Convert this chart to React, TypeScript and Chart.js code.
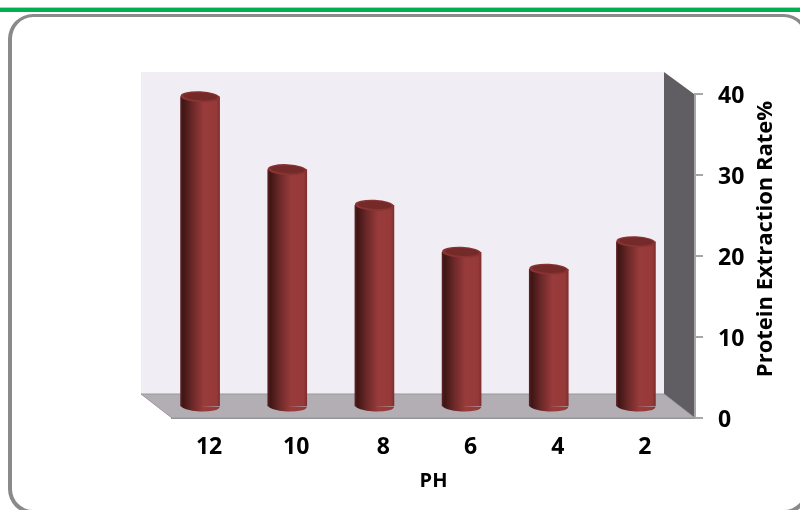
import React, { useEffect, useRef } from "react";
import { Chart, registerables } from "chart.js";

Chart.register(...registerables);

const phLevels = ["12", "10", "8", "6", "4", "2"];
const extractionRates = [38.3, 29.3, 24.9, 19.1, 17, 20.4];
const rateTicks = [0, 10, 20, 30, 40];
const xTitle = "PH";
const yTitle = "Protein Extraction Rate%";

const FONT = "'Open Sans', 'Noto Sans', sans-serif";
// Depth of the pseudo-3D box, and how far the cylinders sit into it.
const DEPTH_X = 31;
const DEPTH_Y = 24;
const BAR_SHIFT_X = -15.5;
const BAR_SHIFT_Y = -11;
const CAP_RY = 5.5;
const CAP_TILT = 0.045;

function barGradient(ctx: CanvasRenderingContext2D, cx: number, w: number) {
  const g = ctx.createLinearGradient(cx - w / 2, 0, cx + w / 2, 0);
  g.addColorStop(0, "#5a2020");
  g.addColorStop(0.06, "#3f1515");
  g.addColorStop(0.3, "#6b2828");
  g.addColorStop(0.6, "#9a3b3b");
  g.addColorStop(0.92, "#963939");
  g.addColorStop(1, "#7f2e2e");
  return g;
}

const boxPlugin = {
  id: "box3d",
  beforeDatasetsDraw(chart: any) {
    const { ctx, chartArea: a } = chart;
    const backL = a.left - DEPTH_X;
    const backR = a.right - DEPTH_X;
    const backT = a.top - DEPTH_Y + 2;
    const backB = a.bottom - DEPTH_Y;
    ctx.save();
    ctx.fillStyle = "#f0eef4";
    ctx.fillRect(backL, backT, backR - backL, backB - backT);
    // Side wall
    ctx.fillStyle = "#605e63";
    ctx.beginPath();
    ctx.moveTo(backR, backT);
    ctx.lineTo(a.right - 1, a.top);
    ctx.lineTo(a.right - 1, a.bottom);
    ctx.lineTo(backR, backB);
    ctx.closePath();
    ctx.fill();
    // Floor
    ctx.fillStyle = "#b2aeb3";
    ctx.beginPath();
    ctx.moveTo(backL, backB);
    ctx.lineTo(backR, backB);
    ctx.lineTo(a.right, a.bottom);
    ctx.lineTo(a.left, a.bottom);
    ctx.closePath();
    ctx.fill();
    ctx.strokeStyle = "#9a989b";
    ctx.lineWidth = 1;
    ctx.stroke();
    ctx.restore();
  },
  beforeDatasetDraw(chart: any) {
    chart.ctx.save();
    chart.ctx.translate(BAR_SHIFT_X, BAR_SHIFT_Y);
  },
  afterDatasetDraw(chart: any, args: any) {
    const { ctx } = chart;
    args.meta.data.forEach((bar: any) => {
      const { x, y, base, width: w } = bar.getProps(["x", "y", "base", "width"], true);
      // Rounded foot of the cylinder
      ctx.fillStyle = barGradient(ctx, x, w);
      ctx.beginPath();
      ctx.ellipse(x, base, w / 2, CAP_RY, CAP_TILT, 0, Math.PI);
      ctx.closePath();
      ctx.fill();
      // Upper rim and darker inner face of the cap
      ctx.fillStyle = "#8a3333";
      ctx.beginPath();
      ctx.ellipse(x, y, w / 2, CAP_RY, CAP_TILT, 0, Math.PI * 2);
      ctx.fill();
      ctx.fillStyle = "#752a2a";
      ctx.beginPath();
      ctx.ellipse(x + 0.5, y - 0.3, w / 2 - 2.5, CAP_RY - 1.6, CAP_TILT, 0, Math.PI * 2);
      ctx.fill();
    });
    ctx.restore();
  },
  afterDraw(chart: any) {
    const { ctx } = chart;
    ctx.save();
    ctx.translate(766, 239);
    ctx.rotate(-Math.PI / 2);
    ctx.font = `bold 22px ${FONT}`;
    ctx.fillStyle = "#000";
    ctx.textAlign = "center";
    ctx.textBaseline = "middle";
    ctx.fillText(yTitle, 0, 0);
    ctx.restore();
  },
};

export default function App() {
  const ref = useRef<HTMLCanvasElement>(null);

  useEffect(() => {
    const chart = new Chart(ref.current!, {
      type: "bar",
      data: {
        labels: phLevels,
        datasets: [
          {
            data: extractionRates,
            barThickness: 39,
            clip: false,
            borderWidth: 0,
            backgroundColor: (c: any) => {
              const px = c.chart.scales.x?.getPixelForValue(c.dataIndex);
              if (!Number.isFinite(px)) return "#8a3333";
              return barGradient(c.chart.ctx, px, 39);
            },
          } as any,
        ],
      },
      options: {
        animation: false,
        responsive: false,
        layout: { padding: { left: 172, top: 94, right: 0, bottom: 0 } },
        plugins: { legend: { display: false }, tooltip: { enabled: false } },
        scales: {
          x: {
            grid: { display: false, drawTicks: false },
            border: { display: true, color: "#8e8e8e", width: 2 },
            ticks: {
              color: "#000",
              padding: 16,
              labelOffset: -6.5,
              maxRotation: 0,
              font: { family: FONT, size: 23, weight: "bold" },
            },
            title: {
              display: true,
              text: xTitle,
              color: "#000",
              padding: { top: 4, bottom: 17 },
              font: { family: FONT, size: 20, weight: "bold" },
            },
            afterFit: (s: any) => {
              s.height = 92;
            },
          },
          y: {
            position: "right",
            min: 0,
            max: 40,
            afterBuildTicks: (s: any) => {
              s.ticks = rateTicks.map((value) => ({ value }));
            },
            grid: {
              drawOnChartArea: false,
              drawTicks: true,
              tickLength: 8,
              tickColor: "#a6a6a6",
              lineWidth: 2,
            },
            border: { display: true, color: "#a6a6a6", width: 2 },
            ticks: {
              color: "#000",
              padding: 15,
              labelOffset: 2.5,
              font: { family: FONT, size: 23, weight: "bold" },
            },
            afterFit: (s: any) => {
              s.width = 105;
            },
          },
        },
      },
      plugins: [boxPlugin],
    } as any);
    return () => chart.destroy();
  }, []);

  return (
    <div
      style={{
        position: "fixed",
        left: 0,
        top: 0,
        width: 800,
        height: 510,
        overflow: "hidden",
        background: "#fff",
      }}
    >
      <div
        style={{
          position: "absolute",
          left: 0,
          top: 7,
          width: 800,
          height: 5,
          background: "#00b050",
          borderTop: "1px solid #9adcb9",
          boxSizing: "border-box",
        }}
      />
      <div
        style={{
          position: "absolute",
          left: 8,
          top: 14,
          width: 801,
          height: 500,
          boxSizing: "border-box",
          border: "4px solid #8a8a8a",
          borderTopWidth: 3,
          borderRadius: 25,
        }}
      />
      <canvas
        ref={ref}
        width={800}
        height={510}
        style={{ position: "absolute", left: 0, top: 0, width: 800, height: 510 }}
      />
    </div>
  );
}
